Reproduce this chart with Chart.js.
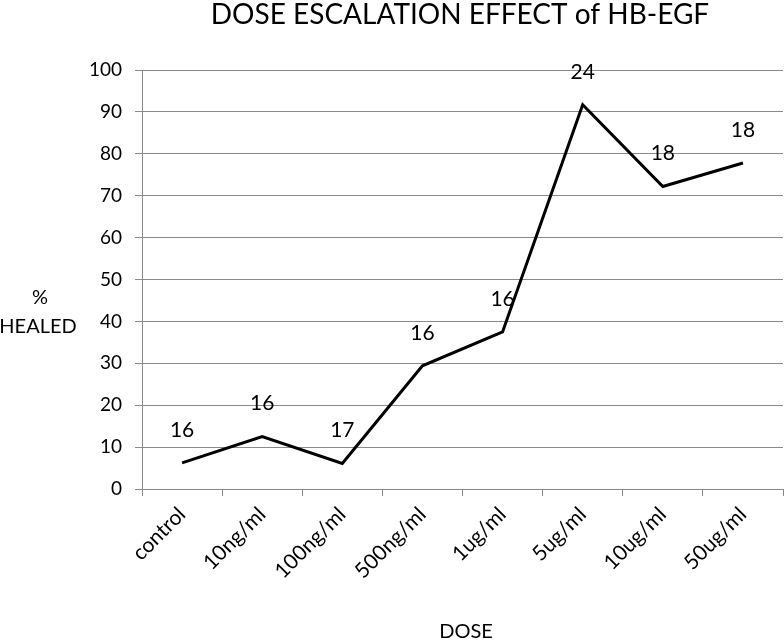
<!DOCTYPE html>
<html>
<head>
<meta charset="utf-8">
<script src="https://cdn.jsdelivr.net/npm/chart.js@4"></script>
<style>
  html, body { margin: 0; padding: 0; background: #fff; }
  #wrap { width: 784px; height: 640px; }
</style>
</head>
<body>
<div id="wrap"><canvas id="chartDosis"></canvas></div>
<script>
// dosis y porcentaje curado
const doses = ['control', '10ng/ml', '100ng/ml', '500ng/ml', '1ug/ml', '5ug/ml', '10ug/ml', '50ug/ml'];
const healed = [6.25, 12.5, 6.1, 29.4, 37.5, 91.7, 72.2, 77.8];
const nCount = ['16', '16', '17', '16', '16', '24', '18', '18'];
const yTicks = [0, 10, 20, 30, 40, 50, 60, 70, 80, 90, 100];

const fuente = 'Lato, "Open Sans", sans-serif';
const gris = '#8a8a8a';

// textos sueltos: titulo, etiqueta del eje y, etiqueta del eje x y los n
const textos = {
    id: 'textos',
    afterDraw(chart) {
        const ctx = chart.ctx;
        ctx.save();
        ctx.fillStyle = '#000';
        ctx.textAlign = 'center';
        ctx.textBaseline = 'middle';

        ctx.font = '28px ' + fuente;
        ctx.fillText('DOSE ESCALATION EFFECT of HB-EGF', 460, 15);

        ctx.font = '20px ' + fuente;
        ctx.fillText('%', 40, 298);
        ctx.fillText('HEALED', 38, 327);
        ctx.fillText('DOSE', 466, 632);

        ctx.font = '21px ' + fuente;
        const meta = chart.getDatasetMeta(0);
        meta.data.forEach((p, i) => {
            ctx.fillText(nCount[i], p.x, p.y - 33);
        });
        ctx.restore();
    }
};

new Chart(document.getElementById('chartDosis'), {
    type: 'line',
    data: {
        labels: doses,
        datasets: [{
            label: '% healed',
            data: healed,
            borderColor: '#000',
            borderWidth: 3,
            pointRadius: 0,
            tension: 0,
            fill: false
        }]
    },
    options: {
        responsive: true,
        maintainAspectRatio: false,
        animation: false,
        layout: { padding: { top: 70, right: 1, bottom: 0, left: 0 } },
        plugins: {
            legend: { display: false },
            tooltip: { enabled: false }
        },
        scales: {
            x: {
                offset: true,
                grid: {
                    offset: true,
                    drawOnChartArea: false,
                    drawTicks: true,
                    tickLength: 7,
                    color: gris
                },
                border: { color: gris },
                ticks: {
                    color: '#000',
                    font: { family: fuente, size: 21 },
                    minRotation: 45,
                    maxRotation: 45,
                    padding: 6
                },
                afterFit(scale) { scale.height = 151; }
            },
            y: {
                min: 0,
                max: 100,
                afterBuildTicks(scale) { scale.ticks = yTicks.map(v => ({ value: v })); },
                grid: { color: gris, tickLength: 7 },
                border: { color: gris },
                ticks: {
                    color: '#000',
                    font: { family: fuente, size: 19 },
                    padding: 13
                },
                afterFit(scale) { scale.width = 142; }
            }
        }
    },
    plugins: [textos]
});
</script>
</body>
</html>
